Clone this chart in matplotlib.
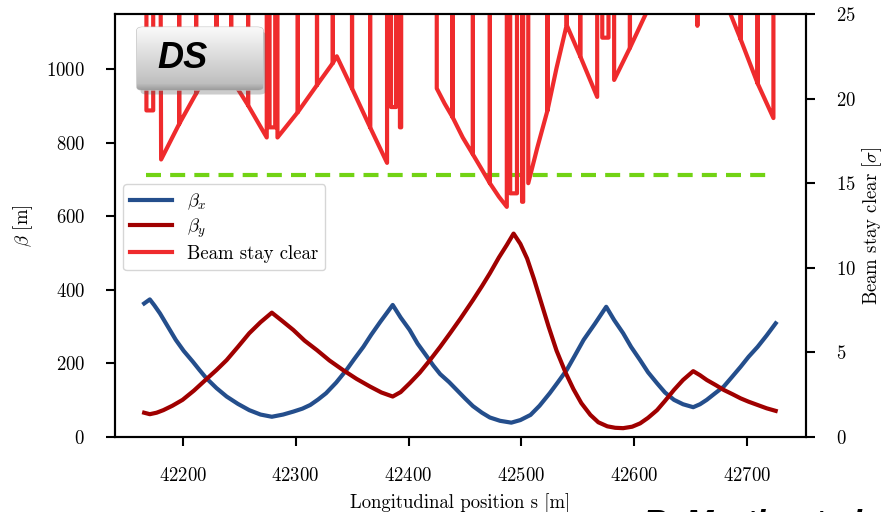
import numpy as np
import matplotlib
matplotlib.use("Agg")
import matplotlib.pyplot as plt
from matplotlib.patches import FancyBboxPatch

# beta functions [m]
s_bx = [42166, 42171, 42175, 42180, 42187, 42194, 42201, 42209, 42215, 42221,
        42230, 42239, 42249, 42259, 42269, 42279, 42289, 42298, 42306, 42313,
        42320, 42327, 42336, 42345, 42352, 42360, 42367, 42375, 42381, 42386,
        42393, 42401, 42408, 42416, 42422, 42428, 42436, 42443, 42450, 42457,
        42465, 42472, 42481, 42491, 42499, 42508, 42516, 42525, 42532, 42540,
        42547, 42555, 42565, 42575, 42582, 42590, 42597, 42605, 42612, 42620,
        42627, 42635, 42643, 42652, 42658, 42664, 42671, 42679, 42686, 42694,
        42701, 42709, 42717, 42725]
beta_x = [363, 374, 358, 336, 300, 264, 234, 205, 182, 160,
          133, 110, 90, 73, 61, 55, 61, 69, 77, 87,
          102, 119, 148, 182, 212, 245, 278, 313, 338, 359,
          325, 291, 254, 220, 194, 171, 149, 127, 105, 84,
          66, 53, 44, 39, 46, 60, 85, 119, 148, 182,
          220, 264, 308, 354, 318, 282, 245, 209, 176, 146,
          121, 101, 89, 81, 89, 101, 118, 137, 162, 191,
          218, 245, 276, 309]

s_by = [42166, 42171, 42177, 42183, 42191, 42200, 42210, 42221, 42230, 42239,
        42249, 42259, 42269, 42279, 42288, 42298, 42308, 42319, 42330, 42342,
        42354, 42366, 42376, 42386, 42393, 42401, 42410, 42419, 42428, 42437,
        42446, 42457, 42465, 42472, 42480, 42487, 42493, 42499, 42505, 42511,
        42517, 42524, 42531, 42539, 42546, 42553, 42561, 42568, 42576, 42583,
        42590, 42598, 42605, 42612, 42620, 42627, 42635, 42643, 42652, 42658,
        42664, 42672, 42679, 42687, 42694, 42701, 42709, 42717, 42725]
beta_y = [66, 62, 66, 73, 85, 101, 126, 157, 182, 209,
          245, 282, 312, 338, 316, 291, 262, 236, 208, 182,
          158, 137, 121, 110, 122, 146, 175, 209, 245, 283,
          322, 372, 410, 445, 488, 522, 553, 525, 485, 430,
          370, 300, 235, 175, 130, 92, 60, 40, 29, 25,
          24, 28, 37, 52, 73, 98, 128, 155, 179, 168,
          155, 141, 128, 116, 105, 96, 87, 78, 71]

# beam stay clear [sigma]; 40 = aperture opens up, off the scale
bsc_s = [42166, 42168, 42168, 42174, 42174, 42180, 42181,
         42197, 42197, 42197, 42212, 42212, 42212, 42230, 42230, 42230,
         42243, 42243, 42243, 42258, 42258, 42258,
         42274.5, 42274.5, 42277, 42277, 42282, 42282, 42284, 42284,
         42302, 42302, 42302, 42319, 42319, 42319, 42333, 42333, 42333, 42336.5,
         42350, 42350, 42350, 42366, 42366, 42366,
         42381, 42381, 42384.5, 42384.5, 42389, 42389, 42392.4, 42392.4, 42393.5, 42393.5,
         42425, 42425, 42432, 42439, 42439, 42439, 42448, 42457, 42457, 42457,
         42465, 42472, 42472, 42472, 42480,
         42487, 42487, 42490, 42490, 42496, 42496, 42500.5, 42500.5, 42501.5, 42501.5,
         42506, 42506, 42514, 42523, 42523, 42523, 42531, 42540, 42540, 42540,
         42552, 42552, 42552,
         42567, 42567, 42571.5, 42571.5, 42577, 42577, 42582, 42582,
         42596, 42596, 42596, 42610, 42616, 42616,
         42655, 42655.7, 42656.5, 42684, 42685,
         42694, 42694, 42694, 42709, 42709, 42709, 42723, 42723]
bsc_val = [40, 40, 19.3, 19.3, 40, 40, 16.4,
           18.5, 40, 18.5, 20.3, 40, 20.3, 22.6, 40, 22.6,
           21.2, 40, 21.2, 19.6, 40, 19.6,
           17.7, 40, 40, 18.3, 18.3, 40, 40, 17.7,
           19.2, 40, 19.2, 20.8, 40, 20.8, 22.1, 40, 22.1, 22.5,
           20.6, 40, 20.6, 18.3, 40, 18.3,
           16.2, 40, 40, 19.5, 19.5, 40, 40, 18.3, 18.3, 40,
           40, 20.6, 19.7, 18.9, 40, 18.9, 17.7, 16.7, 40, 16.7,
           15.8, 15.0, 40, 15.0, 14.2,
           13.6, 40, 40, 14.4, 14.4, 40, 40, 13.9, 13.9, 40,
           40, 15.0, 17.1, 19.3, 40, 19.3, 21.8, 24.35, 40, 24.35,
           22.5, 40, 22.5,
           20.1, 40, 40, 23.6, 23.6, 40, 40, 21.1,
           23.0, 40, 23.0, 25.0, 26.5, 40,
           40, 24.3, 40, 40, 25.0,
           23.5, 40, 23.5, 20.9, 40, 20.9, 18.85, 40]

limit_s = [42168, 42719]
limit_val = [15.5, 15.5]

x_ticks = [42200, 42300, 42400, 42500, 42600, 42700]
beta_ticks = [0, 200, 400, 600, 800, 1000]
bsc_ticks = [0, 5, 10, 15, 20, 25]

plt.rcParams.update({
    "font.family": "serif",
    "font.serif": ["cmr10", "DejaVu Serif"],
    "mathtext.fontset": "cm",
    "axes.formatter.use_mathtext": True,
    "font.size": 13.5,
    "axes.linewidth": 1.5,
})

fig = plt.figure(figsize=(8.83, 5.12), dpi=100)
ax = fig.add_axes([0.130, 0.1465, 0.783, 0.8262])
ax2 = ax.twinx()

l1, = ax.plot(s_bx, beta_x, color="#244e8c", lw=3, label=r"$\beta_x$")
l2, = ax.plot(s_by, beta_y, color="#a00000", lw=3, label=r"$\beta_y$")
ax2.plot(limit_s, limit_val, color="#72d314", lw=3, dashes=(3.6, 2.2))
l3, = ax2.plot(bsc_s, bsc_val, color="#ef2b2d", lw=3, label="Beam stay clear")

ax.set_xlim(42140, 42752)
ax.set_ylim(0, 1150)
ax2.set_ylim(0, 25)
ax.set_xticks(x_ticks)
ax.set_yticks(beta_ticks)
ax2.set_yticks(bsc_ticks)
for a in (ax, ax2):
    a.tick_params(length=6.5, width=1.5, pad=15, labelsize=13.5)

ax.set_xlabel("Longitudinal position s [m]", labelpad=6)
ax.set_ylabel(r"$\beta$ [m]", labelpad=8)
ax2.set_ylabel(r"Beam stay clear [$\sigma$]", labelpad=3)

ax2.legend(handles=[l1, l2, l3], loc="upper left",
           bbox_to_anchor=(0.0116, 0.598), borderaxespad=0,
           handlelength=2.2, labelspacing=0.25, fontsize=13.5)

# "DS" badge
bax = fig.add_axes([0.155, 0.824, 0.143, 0.123])
bax.set_xlim(0, 1)
bax.set_ylim(0, 1)
bax.axis("off")
shadow = FancyBboxPatch((0.03, -0.07), 0.99, 1.0, boxstyle="round,pad=0,rounding_size=0.05",
                        fc="0.35", ec="none", alpha=0.3, transform=bax.transAxes, clip_on=False)
bax.add_patch(shadow)
shade = np.linspace(0.72, 0.98, 64).reshape(-1, 1)
shade[:6] = np.linspace(0.62, 0.72, 6).reshape(-1, 1)
card = FancyBboxPatch((0, 0), 1, 1, boxstyle="round,pad=0,rounding_size=0.05",
                      fc="none", ec="0.75", lw=0.8, transform=bax.transAxes, clip_on=False)
bax.add_patch(card)
im = bax.imshow(shade, extent=[0, 1, 0, 1], origin="lower", cmap="gray",
                vmin=0, vmax=1, aspect="auto", zorder=1)
im.set_clip_path(card)
bax.text(0.165, 0.5, "DS", family="Liberation Sans", fontsize=26, fontweight="bold",
         style="italic", ha="left", va="center", zorder=3)

# credit line, cut by the lower edge as in the source slide
fig.text(0.728, -0.041, "R. Martin et al.", family="Liberation Sans", fontsize=24,
         fontweight="bold", style="italic", va="baseline")

fig.savefig("out.png", dpi=100)
